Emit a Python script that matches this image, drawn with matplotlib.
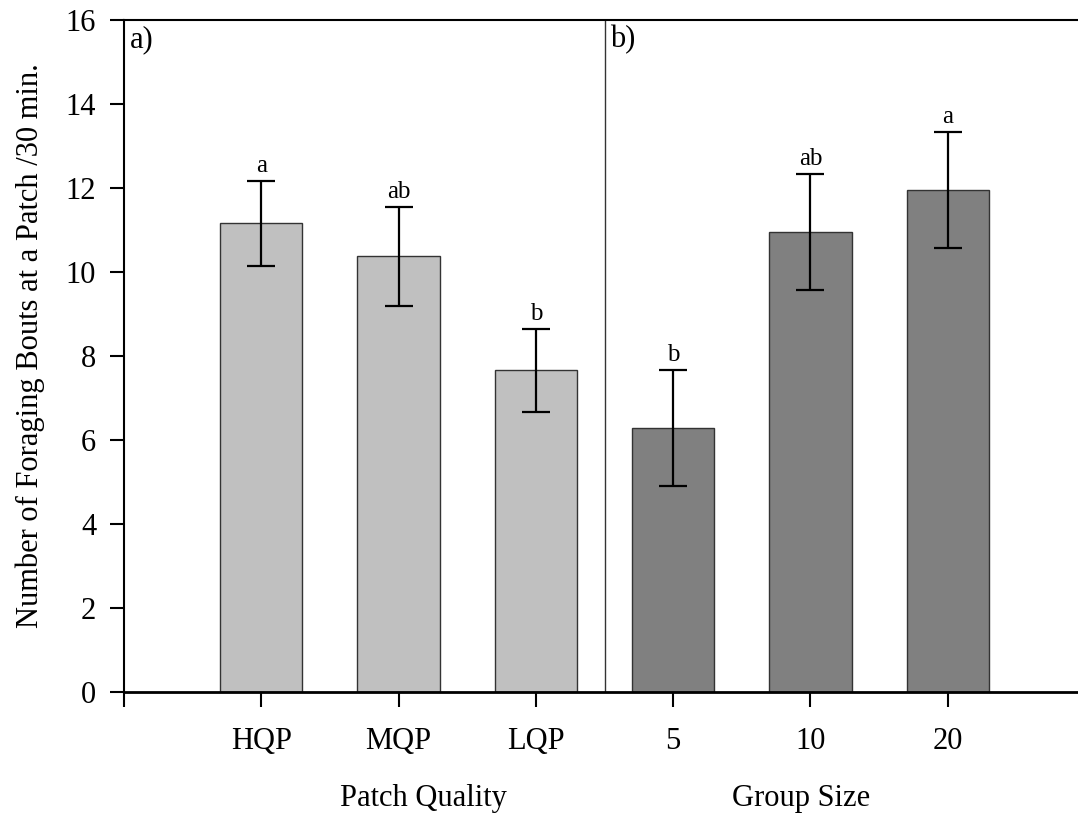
import matplotlib
matplotlib.use("Agg")
import matplotlib.pyplot as plt
import numpy as np

plt.rcParams["font.family"] = ["Liberation Serif", "DejaVu Serif"]

# panel a) patch quality, panel b) group size
quality_labels = ["HQP", "MQP", "LQP"]
quality_mean = [11.16, 10.37, 7.66]
quality_se = [1.01, 1.17, 0.99]
quality_sig = ["a", "ab", "b"]

group_labels = ["5", "10", "20"]
group_mean = [6.29, 10.95, 11.95]
group_se = [1.38, 1.39, 1.39]
group_sig = ["b", "ab", "a"]

W, H = 1078, 817
fig = plt.figure(figsize=(W / 100, H / 100), dpi=100)
x0, x1, y0, y1 = 124, 1085, 692, 20
ax = fig.add_axes([x0 / W, 1 - y0 / H, (x1 - x0) / W, (y0 - y1) / H])

xq = np.arange(1, 4)
xg = np.arange(4, 7)
bw = 0.6
err_kw = dict(fmt="none", ecolor="black", elinewidth=1.6, capsize=10, capthick=1.6)

ax.bar(xq, quality_mean, width=bw, color="#c0c0c0", edgecolor="#333333", linewidth=1)
ax.bar(xg, group_mean, width=bw, color="#808080", edgecolor="#333333", linewidth=1)
ax.errorbar(xq, quality_mean, yerr=quality_se, **err_kw)
ax.errorbar(xg, group_mean, yerr=group_se, **err_kw)

for xs, m, s, lab in ((xq, quality_mean, quality_se, quality_sig),
                      (xg, group_mean, group_se, group_sig)):
    for xi, mi, si, li in zip(xs, m, s, lab):
        ax.text(xi, mi + si + 0.1, li, ha="center", va="bottom", fontsize=18)

ax.axvline(3.5, color="#333333", lw=1)
ax.text(0.04, 15.88, "a)", ha="left", va="top", fontsize=22)
ax.text(3.54, 15.88, "b)", ha="left", va="top", fontsize=22)

ax.set_xlim(0, 7)
ax.set_ylim(0, 16)
ax.set_yticks(np.arange(0, 17, 2))
ax.set_xticks(np.arange(0, 7))
ax.set_xticklabels([""] + quality_labels + group_labels)
ax.tick_params(axis="y", direction="out", length=10, width=1.5, labelsize=22, pad=10)
ax.tick_params(axis="x", direction="out", length=11, width=1.5, labelsize=22, pad=14)

ax.spines["right"].set_visible(False)
ax.spines["left"].set_linewidth(1.5)
ax.spines["top"].set_linewidth(1.5)
ax.spines["bottom"].set_linewidth(2)

ax.text(2.18, -2.2, "Patch Quality", ha="center", va="top", fontsize=22)
ax.text(4.93, -2.2, "Group Size", ha="center", va="top", fontsize=22)
fig.text(30 / W, 1 - 346 / H, "Number of Foraging Bouts at a Patch /30 min.",
         rotation=90, ha="center", va="center", fontsize=22)

fig.savefig("out.png", dpi=100)
